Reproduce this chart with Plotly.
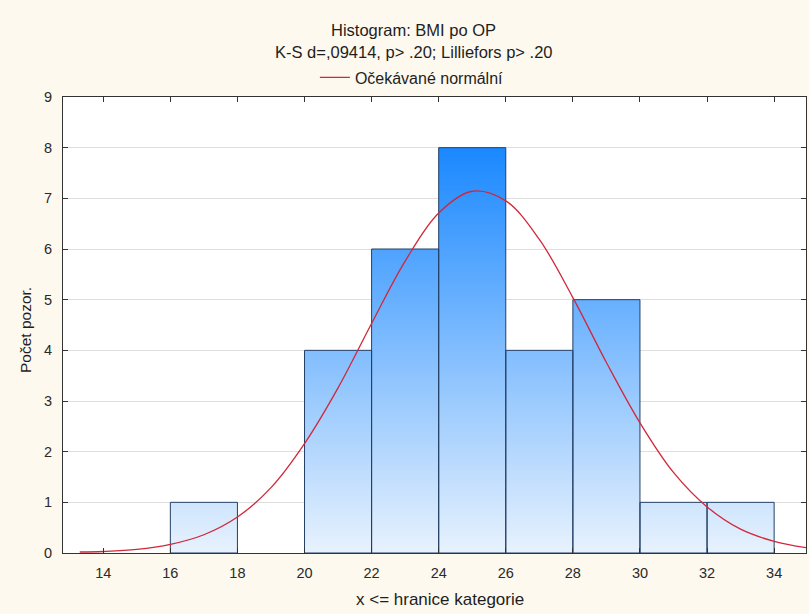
import plotly.graph_objects as go

# ---- data ----
bin_left = [16, 20, 22, 24, 26, 28, 30, 32]
bin_right = [18, 22, 24, 26, 28, 30, 32, 34]
counts = [1, 4, 6, 8, 4, 5, 1, 1]

curve_x = [13.3, 14, 15, 16, 17, 18, 19, 20, 21, 22, 23, 24, 25, 26, 27,
           28, 29, 30, 31, 32, 33, 34, 35]
curve_y = [0.02, 0.03, 0.07, 0.17, 0.36, 0.71, 1.29, 2.16, 3.26, 4.53, 5.76,
           6.71, 7.14, 6.95, 6.19, 5.04, 3.76, 2.57, 1.59, 0.91, 0.47, 0.23, 0.10]

x_ticks = [14, 16, 18, 20, 22, 24, 26, 28, 30, 32, 34]
y_ticks = [0, 1, 2, 3, 4, 5, 6, 7, 8, 9]

title_1 = "Histogram: BMI po OP"
title_2 = "K-S d=,09414, p> .20; Lilliefors p> .20"
legend_name = "Očekávané normální"
x_title = "x <= hranice kategorie"
y_title = "Počet pozor."

# ---- build bar rectangles from bin edges and counts ----
bx, by = [], []
for l, r, c in zip(bin_left, bin_right, counts):
    bx += [l, l, r, r, l, None]
    by += [0, c, c, 0, 0, None]

fig = go.Figure()
fig.add_trace(go.Scatter(
    x=bx, y=by, mode="lines", fill="toself",
    line=dict(color="#233f66", width=1),
    fillgradient=dict(type="vertical", start=0, stop=max(counts),
                      colorscale=[[0, "#e8f2fd"], [1, "#1a88ff"]]),
    showlegend=False, hoverinfo="skip",
))
fig.add_trace(go.Scatter(
    x=curve_x, y=curve_y, mode="lines", name=legend_name,
    line=dict(color="#d0283a", width=1.3, shape="spline"),
))

font_family = "Liberation Sans, Arial, sans-serif"
txt = "#1e1e1e"
fig.update_layout(
    width=809, height=614,
    margin=dict(l=63, r=3, t=97, b=61),
    paper_bgcolor="#fdf9ee",
    plot_bgcolor="#ffffff",
    font=dict(family=font_family, size=15, color=txt),
    showlegend=True,
    legend=dict(orientation="h", x=0.339, xanchor="left", y=1.043,
                yanchor="middle", bgcolor="rgba(0,0,0,0)",
                font=dict(size=16, color=txt), itemwidth=30,
                borderwidth=0),
    annotations=[
        dict(text=title_1, x=0.4724, y=1.1465, xref="paper", yref="paper",
             showarrow=False, xanchor="center", yanchor="middle",
             font=dict(size=16.5, color=txt)),
        dict(text=title_2, x=0.4724, y=1.098, xref="paper", yref="paper",
             showarrow=False, xanchor="center", yanchor="middle",
             font=dict(size=16.5, color=txt)),
        dict(text=x_title, x=(440 - 63) / 743, y=-0.102, xref="paper",
             yref="paper", showarrow=False, xanchor="center",
             yanchor="middle", font=dict(size=17, color=txt)),
        dict(text=y_title, x=-0.0511, y=0.489, xref="paper", yref="paper",
             showarrow=False, xanchor="center", yanchor="middle",
             textangle=-90, font=dict(size=15.5, color=txt)),
    ],
)
fig.update_xaxes(
    range=[12.8, 34.95], tickvals=x_ticks, ticktext=[str(t) for t in x_ticks],
    showgrid=False, zeroline=False, showline=True, linecolor="#333333",
    linewidth=1, mirror="ticks", ticks="inside", ticklen=5, tickcolor="#333333",
    tickfont=dict(size=14.5, color="#2a2a2a"), ticklabelstandoff=7,
)
fig.update_yaxes(
    range=[0, 9], tickvals=y_ticks, ticktext=[str(t) for t in y_ticks],
    showgrid=True, gridcolor="#dedede", gridwidth=1, zeroline=False,
    showline=True, linecolor="#333333", linewidth=1, mirror="ticks",
    ticks="inside", ticklen=5, tickcolor="#333333",
    tickfont=dict(size=14.5, color="#2a2a2a"), ticklabelstandoff=7,
)

fig.write_html(
    "out.html",
    config={"displayModeBar": False},
    post_script="document.body.style.margin='0';"
                "document.body.style.overflow='hidden';",
)
